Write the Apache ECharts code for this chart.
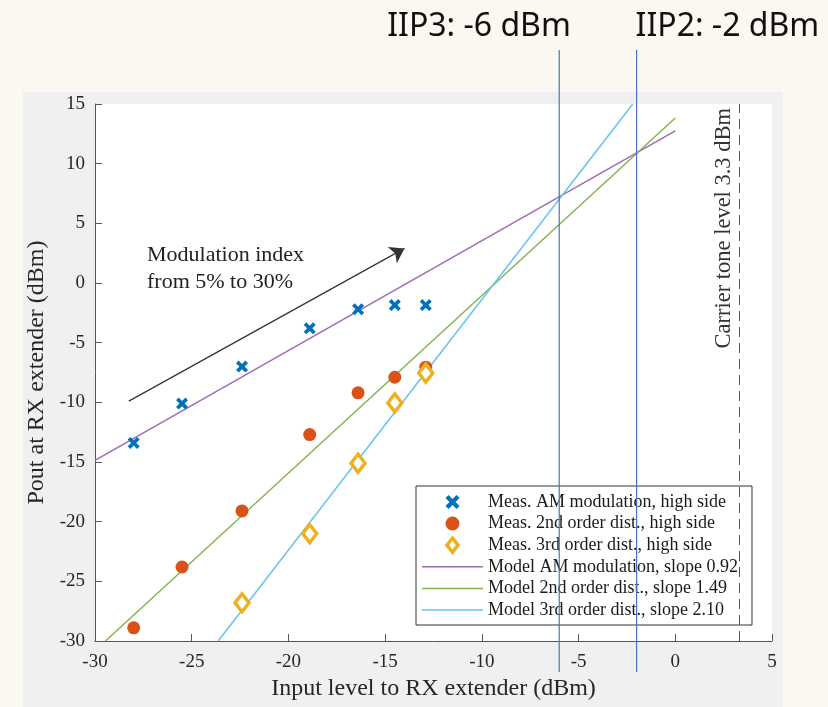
<!DOCTYPE html>
<html>
<head>
<meta charset="utf-8">
<script src="https://cdn.jsdelivr.net/npm/echarts@6/dist/echarts.min.js"></script>
<style>
  html, body { margin: 0; padding: 0; background: #fbf8f1; }
  #chart { width: 828px; height: 707px; }
</style>
</head>
<body>
<div id="chart"></div>
<script>
// Input level (dBm) of each measurement step
const inputLevel = [-28, -25.5, -22.4, -18.9, -16.4, -14.5, -12.9];
// Measured output levels (dBm), high side
const amMeas = [-13.4, -10.1, -7.0, -3.8, -2.2, -1.85, -1.85];
const secondMeas = [-28.9, -23.8, -19.1, -12.7, -9.2, -7.9, -7.05];
const thirdMeas = [null, null, -26.8, -21.0, -15.1, -10.05, -7.55];

// Fitted model lines: end points [input, output]
const amModel = [[-30, -14.86], [0, 12.74]];
const secondModel = [[-29.46, -30], [0, 13.83]];
const thirdModel = [[-23.63, -30], [-2.2, 15]];

// Annotations
const carrierLevel = 3.3;
const iip3 = -6;
const iip2 = -2;
const arrowFrom = [-28.25, -9.9];
const arrowTo = [-14.0, 2.9];

const xTicks = { min: -30, max: 5, interval: 5 };
const yTicks = { min: -30, max: 15, interval: 5 };

const names = [
  'Meas. AM modulation, high side',
  'Meas. 2nd order dist., high side',
  'Meas. 3rd order dist., high side',
  'Model AM modulation, slope 0.92',
  'Model 2nd order dist., slope 1.49',
  'Model 3rd order dist., slope 2.10'
];

const colors = {
  am: '#0072bd', second: '#d95319', third: '#edb120',
  amModel: '#9d6bb6', secondModel: '#84b451', thirdModel: '#66c3ee'
};

const serif = '"Liberation Serif", "Times New Roman", serif';
const crossPath = 'path://M0,2.6 L2.6,0 L6,3.4 L9.4,0 L12,2.6 L8.6,6 L12,9.4 L9.4,12 L6,8.6 L2.6,12 L0,9.4 L3.4,6 Z';
const diamondPath = 'path://M6,0 L12,7.5 L6,15 L0,7.5 Z';
const lineIcon = 'path://M0,0 L61,0 L61,1.5 L0,1.5 Z';

const pairs = (ys) => inputLevel.map((x, i) => ys[i] == null ? null : [x, ys[i]]).filter(Boolean);

const axisCommon = {
  type: 'value',
  axisLine: { show: true, onZero: false, lineStyle: { color: '#555', width: 1 } },
  axisTick: { show: true, inside: true, length: 7, lineStyle: { color: '#555' } },
  splitLine: { show: false },
  axisLabel: { fontFamily: serif, fontSize: 19, color: '#262626' },
  nameTextStyle: { fontFamily: serif, fontSize: 24, color: '#262626' },
  nameLocation: 'middle'
};

const chart = echarts.init(document.getElementById('chart'));

chart.setOption({
  backgroundColor: '#fbf8f1',
  animation: false,
  grid: {
    left: 95, right: 56, top: 104, bottom: 66,
    show: true, backgroundColor: '#ffffff', borderWidth: 0
  },
  xAxis: Object.assign({}, axisCommon, {
    min: xTicks.min, max: xTicks.max, interval: xTicks.interval,
    name: 'Input level to RX extender (dBm)', nameGap: 33,
    axisLabel: Object.assign({}, axisCommon.axisLabel, { margin: 12 })
  }),
  yAxis: Object.assign({}, axisCommon, {
    min: yTicks.min, max: yTicks.max, interval: yTicks.interval,
    name: 'Pout at RX extender (dBm)', nameGap: 45,
    axisLabel: Object.assign({}, axisCommon.axisLabel, { margin: 10 })
  }),
  legend: {
    orient: 'vertical',
    left: 416, top: 486,
    padding: [7, 14, 6, 6],
    itemGap: 3.6,
    itemWidth: 61, itemHeight: 14,
    symbolKeepAspect: true,
    backgroundColor: '#ffffff',
    borderColor: '#333', borderWidth: 1, borderRadius: 0,
    textStyle: { fontFamily: serif, fontSize: 18, color: '#1a1a1a', lineHeight: 18 },
    data: [
      { name: names[0], icon: crossPath, itemStyle: { color: colors.am, opacity: 1 } },
      { name: names[1], icon: 'circle', itemStyle: { color: colors.second, opacity: 1 } },
      { name: names[2], icon: diamondPath, itemStyle: { color: '#ffffff', borderColor: colors.third, borderWidth: 3.5, opacity: 1 } },
      { name: names[3], icon: lineIcon, itemStyle: { color: colors.amModel } },
      { name: names[4], icon: lineIcon, itemStyle: { color: colors.secondModel } },
      { name: names[5], icon: lineIcon, itemStyle: { color: colors.thirdModel } }
    ]
  },
  series: [
    {
      name: names[3], type: 'line', data: amModel, symbol: 'none', z: 2,
      lineStyle: { color: colors.amModel, width: 1.5 }, itemStyle: { color: colors.amModel },
      markLine: {
        silent: true, symbol: ['none', 'arrow'], symbolSize: 14,
        lineStyle: { color: '#333', width: 1.2, type: 'solid' },
        label: { show: false },
        data: [[{ coord: arrowFrom }, { coord: arrowTo }]]
      }
    },
    {
      name: names[4], type: 'line', data: secondModel, symbol: 'none', z: 2,
      lineStyle: { color: colors.secondModel, width: 1.5 }, itemStyle: { color: colors.secondModel },
      markLine: {
        silent: true, symbol: 'none',
        lineStyle: { color: '#555', width: 1, type: [10, 6] },
        label: {
          show: true, position: 'insideEndTop', distance: 4,
          formatter: 'Carrier tone level 3.3 dBm',
          fontFamily: serif, fontSize: 22.5, color: '#333'
        },
        data: [{ xAxis: carrierLevel }]
      }
    },
    {
      name: names[5], type: 'line', data: thirdModel, symbol: 'none', z: 2,
      lineStyle: { color: colors.thirdModel, width: 1.5 }, itemStyle: { color: colors.thirdModel }
    },
    {
      name: names[0], type: 'scatter', data: pairs(amMeas), z: 5,
      symbol: crossPath, symbolSize: 12,
      itemStyle: { color: colors.am, opacity: 1 }
    },
    {
      name: names[1], type: 'scatter', data: pairs(secondMeas), z: 5,
      symbol: 'circle', symbolSize: 13,
      itemStyle: { color: colors.second, opacity: 1 }
    },
    {
      name: names[2], type: 'scatter', data: pairs(thirdMeas), z: 6,
      symbol: 'diamond', symbolSize: [14, 18],
      itemStyle: { color: '#ffffff', borderColor: colors.third, borderWidth: 3.5, opacity: 1 }
    }
  ]
});

// Overlay: background panel, intercept markers and text annotations
const x3 = chart.convertToPixel({ xAxisIndex: 0 }, iip3);
const x2 = chart.convertToPixel({ xAxisIndex: 0 }, iip2);
const interceptLine = { stroke: '#4a72c2', lineWidth: 1.2 };

chart.setOption({
  graphic: [
    {
      type: 'rect', z: -10, silent: true,
      shape: { x: 23, y: 92, width: 760, height: 615 },
      style: { fill: '#f0f0f0' }
    },
    {
      type: 'line', z: 20, silent: true,
      shape: { x1: x3, y1: 50, x2: x3, y2: 672 }, style: interceptLine
    },
    {
      type: 'line', z: 20, silent: true,
      shape: { x1: x2, y1: 50, x2: x2, y2: 672 }, style: interceptLine
    },
    {
      type: 'text', z: 20, silent: true, x: x3 - 172, y: 27,
      style: { text: 'IIP3: -6 dBm', font: '32px "Noto Sans"', fill: '#111', verticalAlign: 'middle', align: 'left' }
    },
    {
      type: 'text', z: 20, silent: true, x: x2 - 1, y: 27,
      style: { text: 'IIP2: -2 dBm', font: '32px "Noto Sans"', fill: '#111', verticalAlign: 'middle', align: 'left' }
    },
    {
      type: 'text', z: 20, silent: true, x: 147, y: 242,
      style: {
        text: 'Modulation index\nfrom 5% to 30%',
        font: '22px "Liberation Serif"', fill: '#222', lineHeight: 27,
        verticalAlign: 'top', align: 'left'
      }
    }
  ]
});
</script>
</body>
</html>
